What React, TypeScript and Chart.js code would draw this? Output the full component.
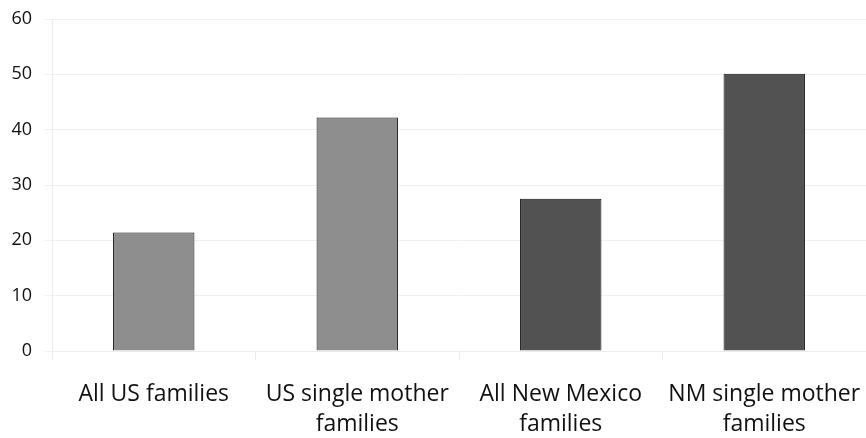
import React, { useEffect, useRef } from "react";
import { Chart, registerables } from "chart.js";

Chart.register(...registerables);

const categories: string[][] = [
  ["All US families"],
  ["US single mother", "families"],
  ["All New Mexico", "families"],
  ["NM single mother", "families"],
];
const values: number[] = [21.4, 42.2, 27.5, 50.1];
const barColors: string[] = ["#8e8e8e", "#8e8e8e", "#525252", "#525252"];
const yTicks: number[] = [0, 10, 20, 30, 40, 50, 60];

export default function App() {
  const ref = useRef<HTMLCanvasElement | null>(null);
  useEffect(() => {
    document.body.style.margin = "0";
    const ctx = ref.current!;
    const chart = new Chart(ctx, {
      type: "bar",
      data: {
        labels: categories,
        datasets: [
          {
            data: values,
            backgroundColor: barColors,
            borderColor: "#111111",
            borderWidth: 1,
            categoryPercentage: 0.4,
            barPercentage: 1,
          },
        ],
      },
      options: {
        animation: false,
        responsive: false,
        maintainAspectRatio: false,
        layout: { padding: { top: 19, right: 0, left: 0, bottom: 0 } },
        plugins: { legend: { display: false }, tooltip: { enabled: false } },
        scales: {
          x: {
            offset: true,
            grid: {
              offset: true,
              drawOnChartArea: false,
              color: "#ececec",
              tickLength: 9,
            },
            border: { color: "#ececec" },
            ticks: {
              color: "#111111",
              font: { family: "Open Sans", size: 23, lineHeight: 1.32 },
              padding: 19,
              maxRotation: 0,
              autoSkip: false,
            },
            afterFit: (s: any) => {
              s.height = 87;
              s.paddingLeft = 0;
              s.paddingRight = 0;
            },
          },
          y: {
            min: 0,
            max: 60,
            afterBuildTicks: (s: any) => {
              s.ticks = yTicks.map((v) => ({ value: v }));
            },
            grid: { color: "#f0f0f0", tickLength: 7 },
            border: { color: "#ececec" },
            ticks: {
              color: "#111111",
              font: { family: "Open Sans", size: 18 },
              padding: 13,
            },
            afterFit: (s: any) => {
              s.width = 52;
              s.paddingTop = 0;
              s.paddingBottom = 0;
            },
          },
        },
      },
    });
    return () => chart.destroy();
  }, []);
  return (
    <div style={{ width: 866, height: 438 }}>
      <canvas ref={ref} width={866} height={438} style={{ display: "block" }} />
    </div>
  );
}
